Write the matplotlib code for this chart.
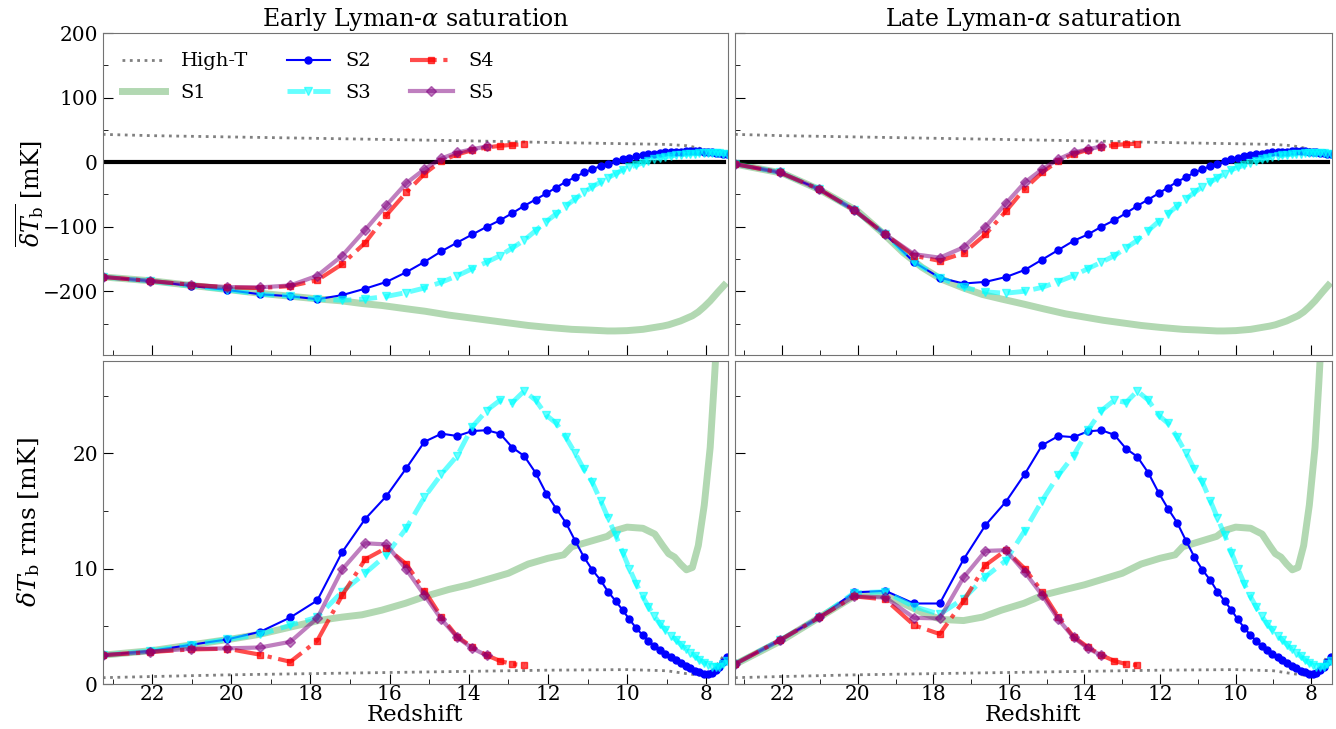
import matplotlib
matplotlib.use('Agg')
import matplotlib.pyplot as plt
from matplotlib.ticker import MultipleLocator

plt.rcParams['font.family'] = 'serif'
plt.rcParams['font.serif'] = ['DejaVu Serif']
plt.rcParams['mathtext.fontset'] = 'dejavuserif'

# redshifts of the simulation snapshots
z_sim = [23.25, 22.06, 21.02, 20.10, 19.27, 18.51, 17.83, 17.20, 16.62, 16.08,
         15.58, 15.12, 14.69, 14.29, 13.91, 13.55, 13.21, 12.90, 12.60, 12.31,
         12.04, 11.79, 11.55, 11.31, 11.09, 10.88, 10.67, 10.48, 10.29, 10.11,
         9.94, 9.77, 9.61, 9.46, 9.31, 9.17, 9.03, 8.89, 8.76, 8.64,
         8.52, 8.40, 8.28, 8.17, 8.06, 7.96, 7.86, 7.76, 7.67, 7.57, 7.48]

# redshifts for the smooth curves
z_s1 = [23.25, 22, 21, 20, 19.3, 18.8, 18.3, 17.8, 17.2, 16.7, 16.2, 15.6, 15.1,
        14.5, 14, 13.5, 13, 12.5, 12, 11.6, 11.4, 11, 10.5, 10.3, 10, 9.6, 9.3,
        9.1, 8.95, 8.8, 8.65, 8.5, 8.35, 8.2, 8.05, 7.9, 7.8, 7.7, 7.55]
z_hot = [23.25, 22, 20, 18, 16, 14, 12, 10, 9, 8.5, 8.2, 8.0, 7.8, 7.55]

# ---- global signal [mK] ----
hot_mean = [43, 41, 39, 37, 35, 33, 30.5, 28.5, 27.5, 25.5, 22, 19, 16, 12]

s1_mean_early = [-177.8, -184, -191, -198, -203, -206, -209, -212, -215, -219,
                 -222, -227, -231, -237, -241, -245, -249, -253, -256, -258,
                 -259, -260, -261.5, -261.5, -261, -259, -256, -254, -252, -249,
                 -246, -242, -238, -232, -224, -215, -208, -201, -191]
s1_mean_late = [-3, -17, -43, -76, -112, -140, -163, -181, -195, -205,
                -212, -220, -227, -235, -240, -245, -249, -253, -256, -258,
                -259, -260, -261.5, -261.5, -261, -259, -256, -254, -252, -249,
                -246, -242, -238, -232, -224, -215, -208, -201, -191]

s2_mean_early = [-177.8, -184, -191.8, -198, -204.7, -207.7, -212.4, -206, -196, -185.5,
                 -170.5, -154.5, -138, -124.5, -112, -100.3, -90, -79, -67.7, -57.9,
                 -48.5, -39.3, -30.5, -23.3, -16, -10.9, -6.2, -2.6, 1, 4.6,
                 6.7, 8.8, 10.5, 12, 13.2, 14.2, 15, 15.6, 16, 16.3,
                 16.5, 16.6, 16.6, 16.5, 16.3, 16, 15.5, 14.8, 14, 13.2, 12.3]
s2_mean_late = [-3, -16, -42, -74, -112, -155, -179, -188, -185.5, -178,
                -167, -151, -136, -122, -112, -100, -90, -79, -67.7, -57.9,
                -48.5, -39.3, -30.5, -23.3, -16, -10.9, -6.2, -2.6, 1, 4.6,
                6.7, 8.8, 10.5, 12, 13.2, 14.2, 15, 15.6, 16, 16.3,
                16.5, 16.6, 16.6, 16.5, 16.3, 16, 15.5, 14.8, 14, 13.2, 12.3]

s3_mean_early = [-177.8, -184, -191.8, -198, -204.7, -207.7, -212.4, -214, -212, -208,
                 -202, -195, -186, -176, -165, -155, -145, -133, -121, -106,
                 -92, -80, -68, -57, -47, -38, -31, -24, -18, -12,
                 -8, -5, -1, 2, 4.5, 6.5, 8, 9.5, 10.5, 11.3,
                 12, 12.7, 13.2, 13.6, 13.9, 14, 14, 13.8, 13.4, 13, 12.4]
s3_mean_late = [-3, -16, -42, -74, -112, -155, -179, -194, -201, -203,
                -200, -194, -185, -176, -165, -155, -145, -133, -121, -106,
                -92, -80, -68, -57, -47, -38, -31, -24, -18, -12,
                -8, -5, -1, 2, 4.5, 6.5, 8, 9.5, 10.5, 11.3,
                12, 12.7, 13.2, 13.6, 13.9, 14, 14, 13.8, 13.4, 13, 12.4]

s4_mean_early = [-177.8, -184, -190, -194, -195, -192, -183, -158, -125, -82,
                 -47, -18, 2, 12, 18.6, 22.7, 25.3, 26.8, 27.4]
s4_mean_late = [-3, -16, -42, -74, -112, -145, -153, -141, -112, -76,
                -41, -16, 2, 12.4, 19, 23.5, 26.4, 27.9, 28.5]

s5_mean_early = [-177.8, -184, -190, -193.5, -194, -191, -176, -145, -105, -66.7,
                 -32.6, -10.9, 5.7, 15, 20, 24.3]
s5_mean_late = [-3, -16, -42, -74, -112, -142.6, -148, -132, -100, -64,
                -31.5, -11, 4.6, 15, 20, 24.3]

# ---- rms fluctuations [mK] ----
hot_rms = [0.55, 0.65, 0.8, 0.9, 1.0, 1.1, 1.2, 1.25, 1.15, 0.9, 0.78, 0.8, 1.3, 2.5]

s1_rms_early = [2.5, 2.9, 3.4, 3.9, 4.3, 4.7, 5.1, 5.5, 5.8, 6.0,
                6.4, 7.0, 7.6, 8.2, 8.6, 9.1, 9.6, 10.4, 10.9, 11.2,
                11.9, 12.3, 12.8, 13.3, 13.6, 13.5, 13.0, 12.0, 11.3, 11.0,
                10.4, 9.9, 10.1, 12.0, 15.5, 20.5, 26, 32, 42]
s1_rms_late = [1.7, 3.8, 5.8, 7.8, 7.7, 7.0, 6.2, 5.6, 5.5, 5.8,
               6.4, 7.0, 7.7, 8.2, 8.6, 9.1, 9.6, 10.4, 10.9, 11.2,
               11.9, 12.3, 12.8, 13.3, 13.6, 13.5, 13.0, 12.0, 11.3, 11.0,
               10.4, 9.9, 10.1, 12.0, 15.5, 20.5, 26, 32, 42]

s2_rms_early = [2.5, 2.86, 3.4, 3.87, 4.53, 5.77, 7.24, 11.43, 14.3, 16.3,
                18.7, 21.0, 21.7, 21.5, 21.93, 22.0, 21.7, 20.5, 19.77, 18.3,
                16.5, 15.2, 14.0, 12.4, 11.0, 9.9, 9.0, 8.0, 7.2, 6.4,
                5.6, 4.85, 4.25, 3.75, 3.3, 2.95, 2.62, 2.3, 2.05, 1.8,
                1.55, 1.35, 1.15, 1.0, 0.9, 0.87, 0.95, 1.2, 1.5, 1.9, 2.3]
s2_rms_late = [1.73, 3.8, 5.77, 7.94, 8.08, 6.98, 6.98, 10.8, 13.77, 15.8,
               18.2, 20.7, 21.5, 21.4, 21.9, 22.0, 21.6, 20.4, 19.7, 18.3,
               16.6, 15.2, 14.0, 12.4, 11.0, 9.9, 9.0, 8.0, 7.2, 6.4,
               5.6, 4.85, 4.25, 3.75, 3.3, 2.95, 2.62, 2.3, 2.05, 1.8,
               1.55, 1.35, 1.15, 1.0, 0.9, 0.87, 0.95, 1.2, 1.5, 1.9, 2.3]

s3_rms_early = [2.5, 2.86, 3.4, 3.87, 4.3, 5.1, 5.8, 8.0, 9.6, 11.2,
                13.5, 16.2, 18.2, 19.8, 22.3, 23.7, 24.6, 24.4, 25.4, 24.6,
                23.3, 22.6, 21.4, 20.0, 18.6, 17.5, 15.9, 14.4, 12.9, 11.4,
                10.0, 8.7, 7.6, 6.7, 5.9, 5.2, 4.7, 4.2, 3.8, 3.4,
                3.0, 2.7, 2.4, 2.1, 1.85, 1.65, 1.5, 1.45, 1.5, 1.7, 2.0]
s3_rms_late = [1.73, 3.8, 5.77, 7.9, 8.0, 6.7, 6.06, 7.4, 9.3, 10.7,
               13.3, 15.9, 18.1, 19.8, 22.0, 23.7, 24.6, 24.4, 25.4, 24.6,
               23.3, 22.6, 21.4, 20.0, 18.6, 17.5, 15.9, 14.4, 12.9, 11.4,
               10.0, 8.7, 7.6, 6.7, 5.9, 5.2, 4.7, 4.2, 3.8, 3.4,
               3.0, 2.7, 2.4, 2.1, 1.85, 1.65, 1.5, 1.45, 1.5, 1.7, 2.0]

s4_rms_early = [2.5, 2.77, 3.0, 3.06, 2.54, 1.93, 3.75, 7.68, 10.8, 11.8,
                10.4, 8.1, 5.8, 4.1, 3.2, 2.5, 2.0, 1.73, 1.64]
s4_rms_late = [1.73, 3.8, 5.77, 7.6, 7.33, 5.1, 4.33, 7.2, 10.3, 11.6,
               10.0, 8.0, 5.8, 4.1, 3.2, 2.5, 2.0, 1.73, 1.64]

s5_rms_early = [2.5, 2.8, 3.06, 3.09, 3.17, 3.66, 5.7, 9.93, 12.2, 12.1,
                9.93, 7.7, 5.6, 4.04, 3.09, 2.48]
s5_rms_late = [1.73, 3.8, 5.77, 7.6, 7.5, 5.74, 5.68, 9.24, 11.54, 11.6,
               9.7, 7.7, 5.6, 4.04, 3.09, 2.48]

titles = ['Early Lyman-$\\alpha$ saturation', 'Late Lyman-$\\alpha$ saturation']


def draw(ax, hot, s1, s2, s3, s4, s5, zero_line=False):
    if zero_line:
        ax.plot([z_s1[0], z_s1[-1]], [0, 0], color='black', lw=3, zorder=1)
    ax.plot(z_hot, hot, ':', color='gray', lw=2, label='High-T')
    ax.plot(z_s1, s1, '-', color='green', alpha=0.3, lw=5, label='S1')
    ax.plot(z_sim, s2, '-', color='blue', marker='o', ms=5, lw=1.5, label='S2')
    ax.plot(z_sim, s3, '--', color='cyan', marker='v', ms=5.5, lw=3.5, alpha=0.6, label='S3')
    ax.plot(z_sim[:len(s4)], s4, '-.', color='red', marker='s', ms=5, lw=3, alpha=0.7, label='S4')
    ax.plot(z_sim[:len(s5)], s5, '-', color='purple', marker='D', ms=5, lw=3, alpha=0.5, label='S5')


def style(ax):
    ax.set_xlim(23.25, 7.45)
    ax.xaxis.set_major_locator(MultipleLocator(2))
    ax.xaxis.set_minor_locator(MultipleLocator(1))
    ax.tick_params(which='both', direction='in', labelsize=14.5)
    ax.tick_params(which='major', length=7)
    ax.tick_params(which='minor', length=3.5)
    for sp in ax.spines.values():
        sp.set_color('0.45')


fig = plt.figure(figsize=(13.36, 7.29), dpi=100)
ax_tl = fig.add_axes([0.0769, 0.5137, 0.468, 0.441])
ax_tr = fig.add_axes([0.5501, 0.5137, 0.4469, 0.441])
ax_bl = fig.add_axes([0.0769, 0.0617, 0.468, 0.4431])
ax_br = fig.add_axes([0.5501, 0.0617, 0.4469, 0.4431])

draw(ax_tl, hot_mean, s1_mean_early, s2_mean_early, s3_mean_early, s4_mean_early, s5_mean_early, True)
draw(ax_tr, hot_mean, s1_mean_late, s2_mean_late, s3_mean_late, s4_mean_late, s5_mean_late, True)
draw(ax_bl, hot_rms, s1_rms_early, s2_rms_early, s3_rms_early, s4_rms_early, s5_rms_early)
draw(ax_br, hot_rms, s1_rms_late, s2_rms_late, s3_rms_late, s4_rms_late, s5_rms_late)

for ax in (ax_tl, ax_tr):
    style(ax)
    ax.set_ylim(-298, 200)
    ax.yaxis.set_major_locator(MultipleLocator(100))
    ax.yaxis.set_minor_locator(MultipleLocator(50))
    ax.tick_params(labelbottom=False)
for ax in (ax_bl, ax_br):
    style(ax)
    ax.set_ylim(0, 28)
    ax.yaxis.set_major_locator(MultipleLocator(10))
    ax.yaxis.set_minor_locator(MultipleLocator(5))
    ax.tick_params(axis='x', pad=1)
    ax.set_xlabel('Redshift', fontsize=16.5, labelpad=0)
for ax in (ax_tr, ax_br):
    ax.tick_params(labelleft=False)

ax_tl.set_title(titles[0], fontsize=17, pad=4)
ax_tr.set_title(titles[1], fontsize=17, pad=4)
lab1 = ax_tl.set_ylabel('$\\overline{\\delta T_{\\rm b}}$ [mK]', fontsize=17)
lab2 = ax_bl.set_ylabel('$\\delta T_{\\rm b}$ rms [mK]', fontsize=18)
for ax, lab in ((ax_tl, lab1), (ax_bl, lab2)):
    ax.yaxis.set_label_coords(-0.118, 0.5)
    lab.set_va('center')

# legend order: High-T, S1 | S2, S3 | S4, S5
handles, labels = ax_tl.get_legend_handles_labels()
ax_tl.legend(handles, labels, loc='upper left', ncol=3, frameon=False, fontsize=14,
             handlelength=2.2, columnspacing=2.0, labelspacing=0.7, borderaxespad=0.6)

fig.savefig('out.png', dpi=100)
